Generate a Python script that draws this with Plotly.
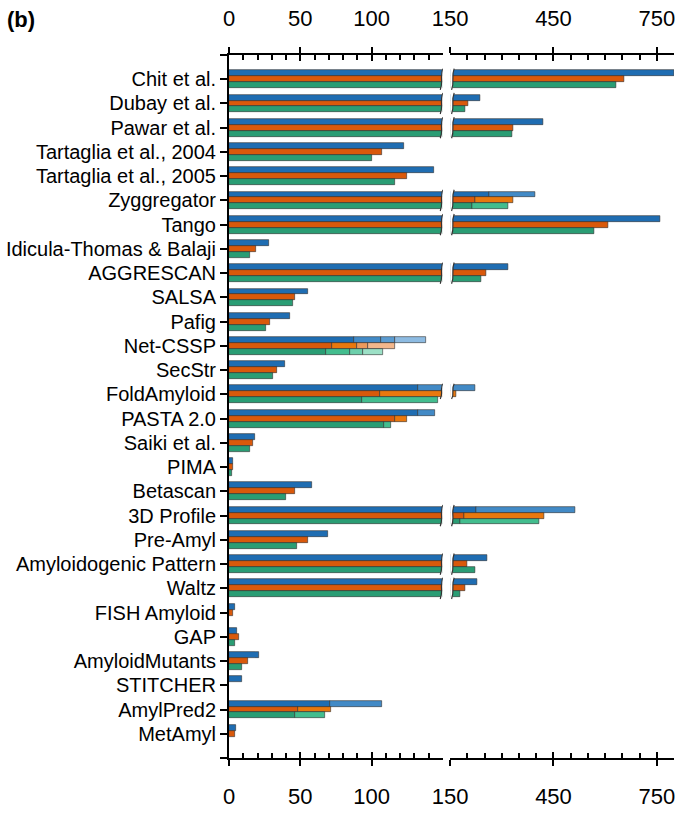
import plotly.graph_objects as go

# ---------------------------------------------------------------- data
categories = [
    "Chit et al.", "Dubay et al.", "Pawar et al.", "Tartaglia et al., 2004",
    "Tartaglia et al., 2005", "Zyggregator", "Tango", "Idicula-Thomas & Balaji",
    "AGGRESCAN", "SALSA", "Pafig", "Net-CSSP", "SecStr", "FoldAmyloid",
    "PASTA 2.0", "Saiki et al.", "PIMA", "Betascan", "3D Profile", "Pre-Amyl",
    "Amyloidogenic Pattern", "Waltz", "FISH Amyloid", "GAP", "AmyloidMutants",
    "STITCHER", "AmylPred2", "MetAmyl",
]

blue_main = [800, 237, 421, 122.6, 143.6, 264, 759, 28, 318, 55.3, 43.1, 87.8,
             39.2, 132.9, 132.9, 17.9, 2.7, 58.3, 224.5, 69.3, 258, 227, 4.1,
             5.7, 21.2, 8.8, 70.5, 5]
orange_main = [654, 201, 333, 107.6, 124.7, 223, 608, 19, 254, 46.4, 29.1, 72.4,
               34, 106, 116.5, 17, 2.9, 46.4, 190, 55.3, 198, 194, 2.9,
               6.9, 13.2, 0, 48.5, 4.1]
green_main = [633, 195, 330, 100.4, 116.8, 213, 569, 15, 241, 45.2, 26.1, 68.2,
              31.2, 93.4, 108.6, 15, 1.8, 40.3, 180, 47.6, 222, 178, 0,
              4.1, 8.8, 0, 46.6, 0]

# cumulative end values of the lighter extension segments
blue_ext = {"Zyggregator": [398], "Net-CSSP": [106.5, 116.3, 138.5],
            "FoldAmyloid": [222], "PASTA 2.0": [144.8], "3D Profile": [512],
            "AmylPred2": [107.6]}
orange_ext = {"Zyggregator": [334], "Net-CSSP": [89.9, 97.6, 116.5],
              "FoldAmyloid": [167], "PASTA 2.0": [124.7], "3D Profile": [423],
              "AmylPred2": [71.4]}
green_ext = {"Zyggregator": [318], "Net-CSSP": [85, 94.3, 108.3],
             "FoldAmyloid": [146.7], "PASTA 2.0": [113.5], "3D Profile": [408],
             "AmylPred2": [67.2]}

left_ticks = [0, 50, 100]
right_ticks = [150, 450, 750]

# ---------------------------------------------------------------- style
blue_shades = ["#1f6db2", "#428ac6", "#5a9bd1", "#8dbbe2"]
orange_shades = ["#d9590b", "#e9780e", "#ec9a5c", "#f3b78c"]
green_shades = ["#2a9d74", "#43bd8e", "#6ccfab", "#9ce0c6"]

FONT = "Liberation Sans, Arial, sans-serif"
BAR_W = 0.245
BREAK = 150
RIGHT_MAX = 800

series = [
    (blue_main, blue_ext, blue_shades, -BAR_W),
    (orange_main, orange_ext, orange_shades, 0.0),
    (green_main, green_ext, green_shades, BAR_W),
]

fig = go.Figure()


def shade_for(level, n_ext, shades):
    if level == 0:
        return shades[0]
    if n_ext == 1:
        return shades[1]
    return shades[level]


for main, ext, shades, off in series:
    # collect segments per level: (y, base, length, colour)
    segs = []
    for i, cat in enumerate(categories):
        if main[i] > 0:
            segs.append((i + off, 0, main[i], shades[0]))
        prev = main[i]
        ends = ext.get(cat, [])
        for k, end in enumerate(ends, start=1):
            segs.append((i + off, prev, end - prev, shade_for(k, len(ends), shades)))
            prev = end
    for xa in ("x", "x2"):
        fig.add_trace(go.Bar(
            orientation="h",
            y=[s[0] for s in segs],
            base=[s[1] for s in segs],
            x=[s[2] for s in segs],
            width=BAR_W,
            marker=dict(color=[s[3] for s in segs],
                        line=dict(color="rgba(45,45,45,0.85)", width=0.7)),
            xaxis=xa, yaxis="y",
            showlegend=False, hoverinfo="skip",
        ))

# break marks where bars continue past the axis break
aL = 1.8      # left-panel units (~2.5 px)
aR = 7.5      # right-panel units (~2.5 px)
cR = 4.0
pad = 0.07
shapes = []
offsets = [s[3] for s in series]
for i, cat in enumerate(categories):
    over = []
    for j, (main, ext, shades, off) in enumerate(series):
        total = ext.get(cat, [main[i]])[-1]
        if total > BREAK:
            over.append(j)
    if not over:
        continue
    top = i + offsets[min(over)] - BAR_W / 2 - pad
    bot = i + offsets[max(over)] + BAR_W / 2 + pad
    h = bot - top
    # left panel: white wedge + curved edge
    c1 = (BREAK - 1.3 * aL, top + 0.4 * h)
    c2 = (BREAK + 0.3 * aL, top + 0.6 * h)
    curveL = f"M {BREAK},{top} C {c1[0]},{c1[1]} {c2[0]},{c2[1]} {BREAK - aL},{bot}"
    shapes.append(dict(type="path", xref="x", yref="y",
                       path=curveL + f" L {BREAK + 1},{bot} L {BREAK + 1},{top} Z",
                       fillcolor="white", line=dict(width=0), layer="above"))
    shapes.append(dict(type="path", xref="x", yref="y", path=curveL,
                       line=dict(color="#333333", width=1.2), layer="above"))
    # right panel
    x0 = BREAK + cR + aR
    d1 = (x0 - 1.3 * aR, top + 0.4 * h)
    d2 = (x0 + 0.3 * aR, top + 0.6 * h)
    curveR = f"M {x0},{top} C {d1[0]},{d1[1]} {d2[0]},{d2[1]} {BREAK + cR},{bot}"
    shapes.append(dict(type="path", xref="x2", yref="y",
                       path=curveR + f" L {BREAK - 5},{bot} L {BREAK - 5},{top} Z",
                       fillcolor="white", line=dict(width=0), layer="above"))
    shapes.append(dict(type="path", xref="x2", yref="y", path=curveR,
                       line=dict(color="#333333", width=1.2), layer="above"))

# ---------------------------------------------------------------- axes
W, H = 681, 815
ML, MR, MT, MB = 229, 6, 52, 46
plot_w = W - ML - MR
dom_left = (443.3 - ML) / plot_w
dom_right = (450.7 - ML) / plot_w

left_minor = [v for v in range(10, 150, 10) if v not in left_ticks]
right_minor = [v for v in range(200, RIGHT_MAX, 50) if v not in right_ticks]

tickfont = dict(family=FONT, size=22, color="black")


def label_axis(rng, majors, minors, side, overlay=None, domain=None):
    ax = dict(
        range=rng, side=side, anchor="y",
        showline=True, linecolor="black", linewidth=2,
        ticks="outside", ticklen=6, tickwidth=2, tickcolor="black",
        tickmode="array", tickvals=majors, ticktext=[str(v) for v in majors],
        tickfont=tickfont, ticklabelstandoff=12,
        minor=dict(ticks="inside", ticklen=5, tickwidth=1.5, tickcolor="black",
                   tickmode="array", tickvals=minors, showgrid=False),
        showgrid=False, zeroline=False, fixedrange=True,
    )
    if overlay:
        ax["overlaying"] = overlay
    if domain:
        ax["domain"] = domain
    return ax


def inner_tick_axis(rng, majors, side, overlay):
    return dict(
        range=rng, side=side, anchor="y", overlaying=overlay,
        showline=False, ticks="inside", ticklen=6, tickwidth=2,
        tickcolor="black", tickmode="array", tickvals=majors,
        showticklabels=False, showgrid=False, zeroline=False,
    )


yticks = [-1] + list(range(len(categories))) + [len(categories)]
ytext = [""] + categories + [""]

fig.update_layout(
    width=W, height=H,
    margin=dict(l=ML, r=MR, t=MT, b=MB, pad=0),
    paper_bgcolor="white", plot_bgcolor="white",
    barmode="overlay", bargap=0,
    font=dict(family=FONT, color="black"),
    xaxis=label_axis([0, BREAK], left_ticks, left_minor, "bottom",
                     domain=[0, dom_left]),
    xaxis2=label_axis([BREAK, RIGHT_MAX], right_ticks, right_minor, "bottom",
                      domain=[dom_right, 1]),
    xaxis3=label_axis([0, BREAK], left_ticks, left_minor, "top", overlay="x"),
    xaxis4=label_axis([BREAK, RIGHT_MAX], right_ticks, right_minor, "top",
                      overlay="x2"),
    xaxis5=inner_tick_axis([0, BREAK], left_ticks, "bottom", "x"),
    xaxis6=inner_tick_axis([BREAK, RIGHT_MAX], right_ticks, "bottom", "x2"),
    xaxis7=inner_tick_axis([0, BREAK], left_ticks, "top", "x"),
    xaxis8=inner_tick_axis([BREAK, RIGHT_MAX], right_ticks, "top", "x2"),
    yaxis=dict(
        range=[len(categories), -1], anchor="x",
        showline=True, linecolor="black", linewidth=2,
        ticks="outside", ticklen=7, tickwidth=2, tickcolor="black",
        tickmode="array", tickvals=yticks, ticktext=ytext,
        tickfont=dict(family=FONT, size=20, color="black"),
        showgrid=False, zeroline=False, fixedrange=True,
    ),
    shapes=shapes,
    annotations=[dict(
        text="<b>(b)</b>", xref="paper", yref="paper",
        x=(4 - ML) / plot_w, y=1 + (MT - 16) / (H - MT - MB),
        xanchor="left", yanchor="middle", showarrow=False,
        font=dict(family=FONT, size=22, color="black"),
    )],
)

# empty traces so every overlay axis is rendered
for k in range(3, 9):
    fig.add_trace(go.Scatter(x=[None], y=[None], xaxis=f"x{k}", yaxis="y",
                             showlegend=False, hoverinfo="skip"))

fig.write_html("out.html")
